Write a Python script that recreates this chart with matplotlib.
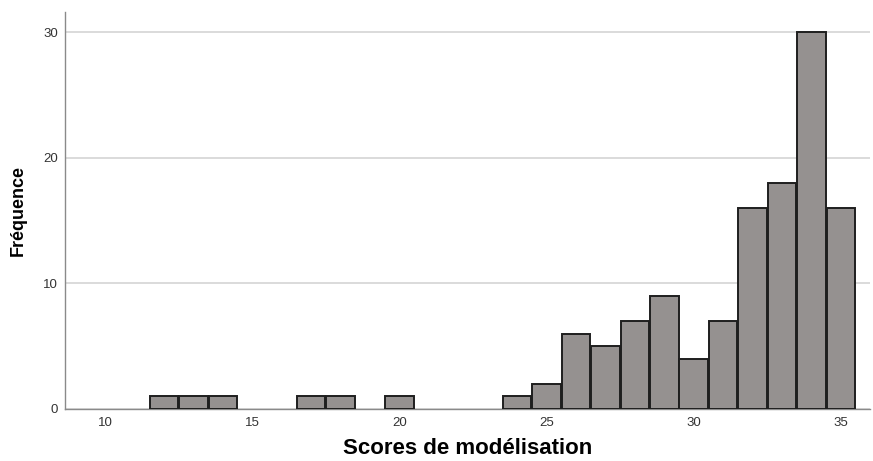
import matplotlib
matplotlib.use("Agg")
import matplotlib.pyplot as plt

plt.rcParams["font.family"] = ["Liberation Sans", "DejaVu Sans"]

# Histogram counts per score (bin centres)
scores = [12, 13, 14, 17, 18, 20, 24, 25, 26, 27, 28, 29, 30, 31, 32, 33, 34, 35]
counts = [1, 1, 1, 1, 1, 1, 1, 2, 6, 5, 7, 9, 4, 7, 16, 18, 30, 16]
x_ticks = [10, 15, 20, 25, 30, 35]
y_ticks = [0, 10, 20, 30]

fig = plt.figure(figsize=(8.73, 4.61), dpi=100)
ax = fig.add_axes([0.0745, 0.1128, 0.9225, 0.861])

ax.bar(scores, counts, width=0.97, color="#959190", edgecolor="#1e1e1e", linewidth=1.4, zorder=3)

ax.set_xlim(8.64, 36.0)
ax.set_ylim(0, 31.6)
ax.set_xticks(x_ticks)
ax.set_yticks(y_ticks)
ax.yaxis.grid(True, color="#d4d4d4", linewidth=1.2, zorder=0)
ax.set_axisbelow(True)

for side in ["top", "right"]:
    ax.spines[side].set_visible(False)
for side in ["left", "bottom"]:
    ax.spines[side].set_color("#8a8a8a")
    ax.spines[side].set_linewidth(1.0)

ax.tick_params(axis="both", length=0, labelsize=9.5, labelcolor="#333333")
ax.tick_params(axis="x", pad=6)
ax.tick_params(axis="y", pad=5)

ax.set_xlabel("Scores de modélisation", fontsize=16, fontweight="bold", labelpad=6)
ax.set_ylabel("Fréquence", fontsize=13, fontweight="bold", labelpad=12)

fig.savefig("out.png", dpi=100)
